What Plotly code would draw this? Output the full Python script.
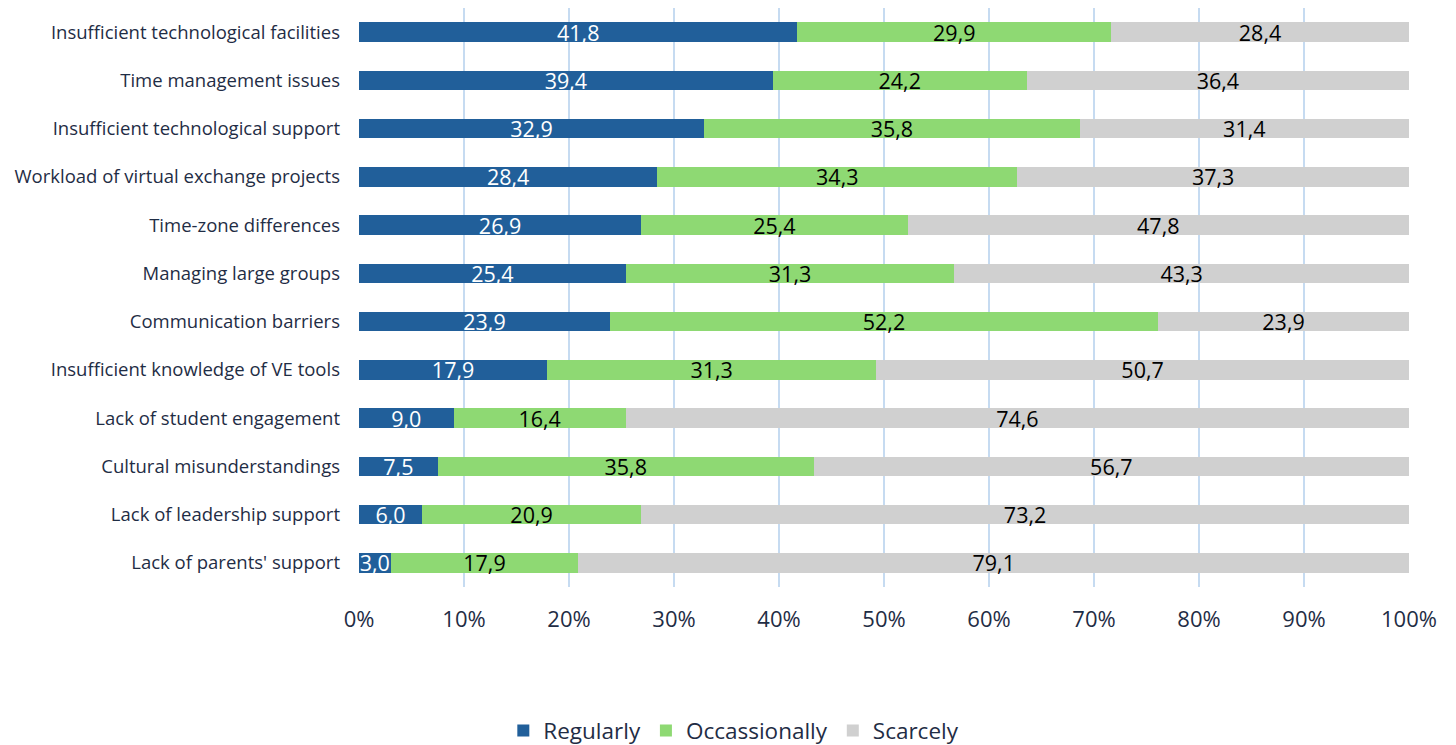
import plotly.graph_objects as go

categories = [
    "Insufficient technological facilities",
    "Time management issues",
    "Insufficient technological support",
    "Workload of virtual exchange projects",
    "Time-zone differences",
    "Managing large groups",
    "Communication barriers",
    "Insufficient knowledge of VE tools",
    "Lack of student engagement",
    "Cultural misunderstandings",
    "Lack of leadership support",
    "Lack of parents' support",
]
regularly = [41.8, 39.4, 32.9, 28.4, 26.9, 25.4, 23.9, 17.9, 9.0, 7.5, 6.0, 3.0]
occasionally = [29.9, 24.2, 35.8, 34.3, 25.4, 31.3, 52.2, 31.3, 16.4, 35.8, 20.9, 17.9]
scarcely = [28.4, 36.4, 31.4, 37.3, 47.8, 43.3, 23.9, 50.7, 74.6, 56.7, 73.2, 79.1]
x_ticks = [0, 10, 20, 30, 40, 50, 60, 70, 80, 90, 100]

series = [
    ("Regularly", regularly, "#215F9A", "white"),
    ("Occassionally", occasionally, "#8ED973", "black"),
    ("Scarcely", scarcely, "#D0D0D0", "black"),
]

FONT = "'Open Sans', 'Noto Sans', sans-serif"
NAVY = "#1F2D45"
LABEL_SIZE = 21.5

fig = go.Figure()
for name, vals, color, txtcolor in series:
    fig.add_trace(go.Bar(
        name=name,
        y=categories,
        x=vals,
        orientation="h",
        marker=dict(color=color, line=dict(width=0)),
        text=[f"{v:.1f}".replace(".", ",") for v in vals],
        textposition="inside",
        insidetextanchor="middle",
        textangle=0,
        textfont=dict(color=txtcolor, size=LABEL_SIZE, family=FONT),
        hoverinfo="skip",
    ))

fig.update_layout(
    barmode="stack",
    barnorm="percent",
    bargap=0.6,
    width=1456,
    height=745,
    margin=dict(l=359, r=47, t=8, b=158, autoexpand=False),
    paper_bgcolor="white",
    plot_bgcolor="white",
    font=dict(family=FONT, color=NAVY),
    uniformtext=dict(minsize=LABEL_SIZE, mode="show"),
    legend=dict(
        orientation="h",
        x=0.504, xanchor="center", xref="container",
        y=0.019, yanchor="middle", yref="container",
        font=dict(size=22.5, color=NAVY),
        traceorder="normal",
        itemwidth=30,
    ),
    xaxis=dict(
        range=[0, 100],
        tickvals=x_ticks,
        ticktext=[f"{t}%" for t in x_ticks],
        showgrid=True,
        gridcolor="#C6DBF1",
        gridwidth=1.5,
        zeroline=False,
        showline=False,
        tickfont=dict(size=22, color=NAVY),
        ticklabelstandoff=17,
        automargin=False,
        fixedrange=True,
    ),
    yaxis=dict(
        categoryorder="array",
        categoryarray=categories[::-1],
        autorange=False,
        range=[-0.5, len(categories) - 0.5],
        showgrid=False,
        zeroline=False,
        showline=False,
        tickfont=dict(size=18.5, color=NAVY),
        ticklabelstandoff=18,
        automargin=False,
    ),
)

fig.write_html("out.html")
